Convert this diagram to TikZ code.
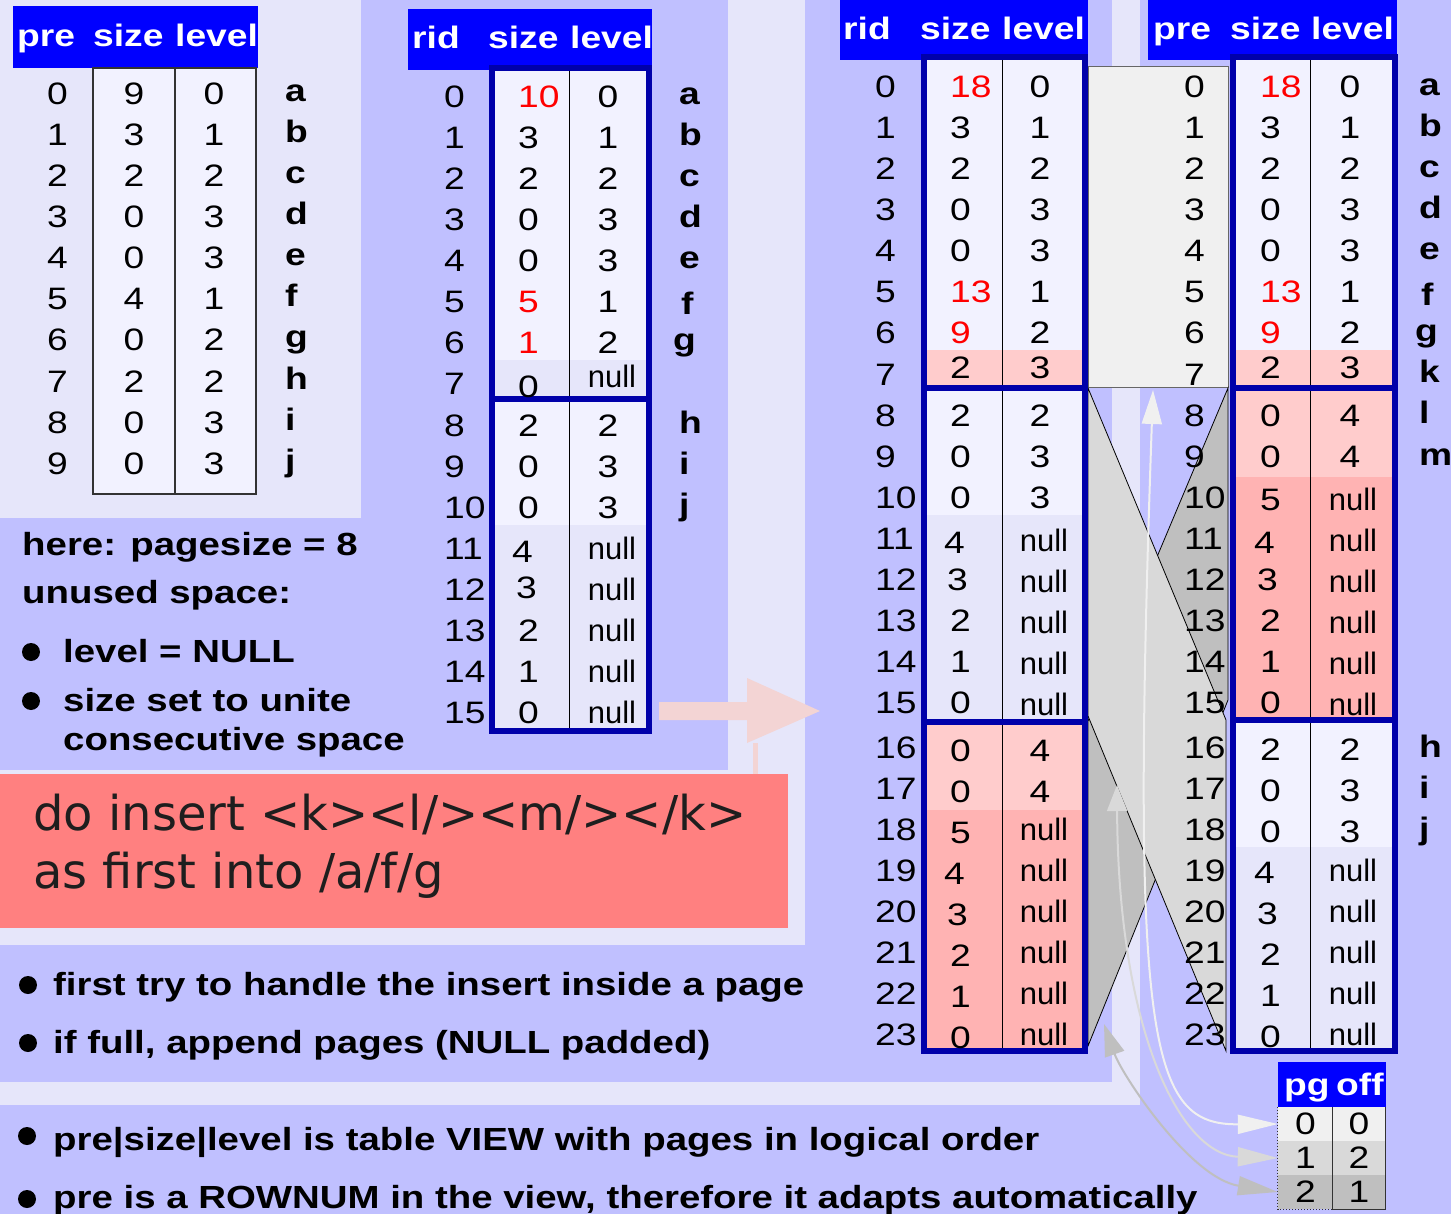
\documentclass[tikz,border=0pt]{standalone}
\usepackage{fontspec}
\usetikzlibrary{arrows.meta}
\newfontfamily\hv{Liberation Sans}[FakeStretch=1.2]
\newfontfamily\hvn{Liberation Sans}
\newfontfamily\dv{DejaVu Sans}
\definecolor{medbg}{HTML}{C0C0FF}
\definecolor{lightbg}{HTML}{E6E6FA}
\definecolor{cellbg}{HTML}{F2F2FF}
\definecolor{nullbg}{HTML}{E6E6FA}
\definecolor{pinkA}{HTML}{FFCCCC}
\definecolor{pinkB}{HTML}{FFB3B3}
\definecolor{cmdred}{HTML}{FF8080}
\definecolor{hdrblue}{HTML}{0000FF}
\definecolor{frameblue}{HTML}{0000AA}
\definecolor{greyA}{HTML}{F0F0F0}
\definecolor{greyB}{HTML}{D9D9D9}
\definecolor{greyC}{HTML}{BFBFBF}
\definecolor{arrowpink}{HTML}{F3D4D4}
\definecolor{cmdtext}{HTML}{1E1E1E}
\begin{document}
\begin{tikzpicture}[x=1pt,y=-1pt,
  num/.style={font=\hv\fontsize{31}{31}\selectfont, inner sep=0pt},
  numL/.style={num, anchor=base west},
  numC/.style={num, anchor=base},
  nullC/.style={font=\hvn\fontsize{31}{31}\selectfont, inner sep=0pt, anchor=base},
  lbl/.style={font=\hv\bfseries\fontsize{31}{31}\selectfont, inner sep=0pt, anchor=base west},
  hdr/.style={lbl, text=white},
  note/.style={font=\hv\bfseries\fontsize{32}{32}\selectfont, inner sep=0pt, anchor=base west},
  cmdtxt/.style={font=\dv\fontsize{48}{48}\selectfont, text=cmdtext, inner sep=0pt, anchor=base west},
  pageframe/.style={draw=frameblue, line width=6pt},
  coldiv/.style={draw=black, line width=1pt},
  pgarrow/.style={line width=2pt},
  pgcell/.style={num, minimum height=34pt, inner sep=0pt},
]
\useasboundingbox (0,0) rectangle (1451,1214);

% ---------- background panels ----------
\fill[medbg] (0,0) rectangle (1451,1214);
\fill[lightbg] (0,0) rectangle (361,518);
\fill[lightbg] (728,0) rectangle (805,945);
\fill[lightbg] (0,770) rectangle (805,945);
\fill[lightbg] (1112,0) rectangle (1140,1105);
\fill[lightbg] (0,1082) rectangle (1140,1105);

% ---------- table 1: pre | size | level ----------
\fill[hdrblue] (13,6) rectangle (258,68);
\node[hdr] (t1h1) at (17,47) {pre};
\node[hdr] (t1h2) at (93,47) {size};
\node[hdr] (t1h3) at (175,47) {level};
\filldraw[fill=cellbg, draw=black!80, line width=1.2pt] (93,68) rectangle (175,494);
\filldraw[fill=cellbg, draw=black!80, line width=1.2pt] (175,68) rectangle (256,494);
\foreach \s/\l/\n [count=\i from 0] in {9/0/a,3/1/b,2/2/c,0/3/d,0/3/e,4/1/f,0/2/g,2/2/h,0/3/i,0/3/j}{
  \pgfmathsetmacro\yb{105+41*\i}
  \node[numL] (t1p\i) at (47,\yb) {\i};
  \node[numC] (t1s\i) at (134,\yb) {\s};
  \node[numC] (t1l\i) at (214,\yb) {\l};
  \node[lbl] (t1n\i) at (285,{\yb-3}) {\n};
}

% ---------- table 2: rid | size | level, pages of 8 ----------
\fill[hdrblue] (408,9) rectangle (652,70);
\node[hdr] (t2h1) at (412,49) {rid};
\node[hdr] (t2h2) at (488,49) {size};
\node[hdr] (t2h3) at (570,49) {level};
\fill[cellbg] (491,68) rectangle (649,360);
\fill[nullbg] (491,360) rectangle (649,399);
\fill[cellbg] (491,399) rectangle (649,525);
\fill[nullbg] (491,525) rectangle (649,731);
\draw[coldiv] (569,68) -- (569,731);
\draw[pageframe] (491.5,68) rectangle (649,399);
\draw[pageframe] (491.5,399) rectangle (649,731);
\foreach \i in {0,...,15}
  \node[numL] (t2r\i) at (444,{108+41*\i}) {\i};
\foreach \v/\c/\dx/\dy [count=\i from 0] in {10/red/0/0,3/black/0/0,2/black/0/0,0/black/0/0,0/black/0/0,5/red/0/0,1/red/0/0,0/black/0/3,2/black/0/0,0/black/0/0,0/black/0/0,4/black/-6/3,3/black/-2/-2,2/black/0/0,1/black/0/0,0/black/0/0}
  \node[numL, text=\c] (t2s\i) at ({518+(\dx)},{108+41*\i+(\dy)}) {\v};
\foreach \r/\v in {0/0,1/1,2/2,3/3,4/3,5/1,6/2,8/2,9/3,10/3}
  \node[numC] (t2l\r) at (608,{108+41*\r}) {\v};
\node[nullC] (t2l7) at (612,388) {null};
\foreach \r in {11,...,15}
  \node[nullC] (t2l\r) at (612,{108+41*\r}) {null};
\foreach \n/\r/\dx/\dy in {a/0/0/0,b/1/0/0,c/2/0/0,d/3/0/0,e/4/0/0,f/5/2/5,g/6/-6/0,h/8/0/0,i/9/0/0,j/10/0/0}
  \node[lbl] (t2n\n) at ({679+(\dx)},{105+41*\r+(\dy)}) {\n};

% ---------- physical-to-logical page mapping ----------
\filldraw[fill=greyA, draw=black!60, line width=1pt] (1088,67) rectangle (1228,388);
\filldraw[fill=greyC, draw=black, line width=0.8pt] (1228,388) -- (1228,700) -- (1088,1046) -- (1088,721) -- cycle;
\filldraw[fill=greyB, draw=black, line width=0.8pt] (1088,388) -- (1226,720) -- (1226,1051) -- (1088,716) -- cycle;

% ---------- table 3: rid | size | level (physical) ----------
\fill[hdrblue] (840,0) rectangle (1088,60);
\node[hdr] (t3h1) at (843,40) {rid};
\node[hdr] (t3h2) at (920,40) {size};
\node[hdr] (t3h3) at (1002,40) {level};
\fill[cellbg] (923.5,57.5) rectangle (1085,350);
\fill[pinkA] (923.5,350) rectangle (1085,388.5);
\fill[cellbg] (923.5,388.5) rectangle (1085,515);
\fill[nullbg] (923.5,515) rectangle (1085,721.5);
\fill[pinkA] (923.5,721.5) rectangle (1085,810);
\fill[pinkB] (923.5,810) rectangle (1085,1051);
\draw[coldiv] (1002,57.5) -- (1002,1051);
\draw[pageframe] (923.5,57.5) rectangle (1085,388.5);
\draw[pageframe] (923.5,388.5) rectangle (1085,721.5);
\draw[pageframe] (923.5,721.5) rectangle (1085,1051);
\foreach \i in {0,...,23}{
  \pgfmathsetmacro\yb{98+41*\i+(\i>15)*4}
  \node[numL] (t3r\i) at (875,\yb) {\i};
}
\foreach \r/\v/\c/\dx/\dy in {0/18/red/0/0,1/3/black/0/0,2/2/black/0/0,3/0/black/0/0,4/0/black/0/0,5/13/red/0/0,6/9/red/0/0,7/2/black/0/-6,8/2/black/0/0,9/0/black/0/0,10/0/black/0/0,11/4/black/-6/4,12/3/black/-3/0,13/2/black/0/0,14/1/black/0/0,15/0/black/0/0,16/0/black/0/7,17/0/black/0/7,18/5/black/0/7,19/4/black/-6/7,20/3/black/-3/7,21/2/black/0/7,22/1/black/0/7,23/0/black/0/7}
  \node[numL, text=\c] (t3s\r) at ({950+(\dx)},{98+41*\r+(\dy)}) {\v};
\foreach \r/\v/\dy in {0/0/0,1/1/0,2/2/0,3/3/0,4/3/0,5/1/0,6/2/0,7/3/-6,8/2/0,9/3/0,10/3/0,16/4/7,17/4/7}
  \node[numC] (t3l\r) at (1040,{98+41*\r+(\dy)}) {\v};
\foreach \r in {11,...,15}
  \node[nullC] (t3l\r) at (1044,{98+41*\r+2}) {null};
\foreach \r in {18,...,23}
  \node[nullC] (t3l\r) at (1044,{102+41*\r}) {null};

% ---------- table 4: pre | size | level (logical view) ----------
\fill[hdrblue] (1148,0) rectangle (1397,60);
\node[hdr] (t4h1) at (1153,40) {pre};
\node[hdr] (t4h2) at (1230,40) {size};
\node[hdr] (t4h3) at (1311,40) {level};
\fill[cellbg] (1233,57.5) rectangle (1395,350);
\fill[pinkA] (1233,350) rectangle (1395,477);
\fill[pinkB] (1233,477) rectangle (1395,720);
\fill[cellbg] (1233,720) rectangle (1395,847);
\fill[nullbg] (1233,847) rectangle (1395,1051);
\draw[coldiv] (1310,57.5) -- (1310,1051);
\draw[pageframe] (1233,57.5) rectangle (1395,388.5);
\draw[pageframe] (1233,388.5) rectangle (1395,720);
\draw[pageframe] (1233,720) rectangle (1395,1051);
\foreach \i in {0,...,23}{
  \pgfmathsetmacro\yb{98+41*\i+(\i>15)*4}
  \node[numL] (t4p\i) at (1184,\yb) {\i};
}
\foreach \r/\v/\c/\dx/\dy in {0/18/red/0/0,1/3/black/0/0,2/2/black/0/0,3/0/black/0/0,4/0/black/0/0,5/13/red/0/0,6/9/red/0/0,7/2/black/0/-6,8/0/black/0/0,9/0/black/0/0,10/5/black/0/2,11/4/black/-6/4,12/3/black/-3/0,13/2/black/0/0,14/1/black/0/0,15/0/black/0/0,16/2/black/0/6,17/0/black/0/6,18/0/black/0/6,19/4/black/-6/6,20/3/black/-3/6,21/2/black/0/6,22/1/black/0/6,23/0/black/0/6}
  \node[numL, text=\c] (t4s\r) at ({1260+(\dx)},{98+41*\r+(\dy)}) {\v};
\foreach \r/\v/\dy in {0/0/0,1/1/0,2/2/0,3/3/0,4/3/0,5/1/0,6/2/0,7/3/-6,8/4/0,9/4/0,16/2/6,17/3/6,18/3/6}
  \node[numC] (t4l\r) at (1350,{98+41*\r+(\dy)}) {\v};
\foreach \r in {10,...,15}
  \node[nullC] (t4l\r) at (1353,{98+41*\r+2}) {null};
\foreach \r in {19,...,23}
  \node[nullC] (t4l\r) at (1353,{102+41*\r}) {null};
\foreach \n/\r/\dx/\dy in {a/0/0/0,b/1/0/0,c/2/0/0,d/3/0/0,e/4/0/0,f/5/2/5,g/6/-4/0,k/7/0/0,l/8/0/0,m/9/0/0,h/16/0/5,i/17/0/5,j/18/0/5}
  \node[lbl] (t4n\n) at ({1419+(\dx)},{96+41*\r+(\dy)}) {\n};

% ---------- page table: pg | off ----------
\fill[hdrblue] (1278,1062) rectangle (1386,1107);
\node[hdr] (pgh1) at (1284,1095) {pg};
\node[hdr] (pgh2) at (1336,1095) {off};
\node[pgcell, fill=greyA, minimum width=55pt] (pg0) at (1305.5,1124) {0};
\node[pgcell, fill=greyB, minimum width=55pt] (pg1) at (1305.5,1158) {1};
\node[pgcell, fill=greyC, minimum width=55pt] (pg2) at (1305.5,1192) {2};
\node[pgcell, fill=greyA, minimum width=52pt] (off0) at (1359,1124) {0};
\node[pgcell, fill=greyB, minimum width=52pt] (off1) at (1359,1158) {2};
\node[pgcell, fill=greyC, minimum width=52pt] (off2) at (1359,1192) {1};
\draw[black!80, line width=1.2pt] (off0.north west) -- (off2.south west) -- (off2.south east) -- (off0.north east);
\draw[black!80, line width=1pt, dotted] (pg0.north west) -- (pg2.south west) -- (pg2.south east);

% ---------- page table links ----------
\coordinate (page0) at (1153,390);
\coordinate (page1) at (1117,785);
\coordinate (page2) at (1104,1024);
\draw[pgarrow, greyA, {Triangle[length=34pt,width=20pt]}-{Triangle[length=40pt,width=19pt]}]
  (page0) .. controls (1130,1050) and (1150,1125) .. (pg0.west);
\draw[pgarrow, greyB, {Triangle[length=26pt,width=20pt]}-{Triangle[length=40pt,width=19pt]}]
  (page1) .. controls (1118,1030) and (1180,1155) .. (pg1.west);
\draw[pgarrow, greyC, {Triangle[length=32pt,width=20pt]}-{Triangle[length=40pt,width=19pt]}]
  (page2) .. controls (1122,1075) and (1190,1178) .. (pg2.west);

% ---------- notes on the left ----------
\node[note] (n1) at (22,555) {here: pagesize = 8};
\node[note] (n2) at (22,603) {unused space:};
\fill (31,652) circle (9);
\node[note] (n3) at (63,662) {level = NULL};
\fill (31,701) circle (9);
\node[note] (n4) at (63,711) {size set to unite};
\node[note] (n5) at (63,750) {consecutive space};

% ---------- the insert command ----------
\node[fill=cmdred, minimum width=788pt, minimum height=154pt, inner sep=0pt, anchor=north west] (cmd) at (0,774) {};
\node[cmdtxt] (cmd1) at (33,830) {do insert <k><l/><m/></k>};
\node[cmdtxt] (cmd2) at (33,888) {as first into /a/f/g};
\coordinate (arrowfoot) at (755,743);
\draw[arrowpink, line width=5pt] (cmd.north -| arrowfoot) -- (arrowfoot);
\fill[arrowpink] (659,702) -- (747,702) -- (747,678) -- (820,711) -- (747,743) -- (747,720) -- (659,720) -- cycle;

% ---------- bullets at the bottom ----------
\fill (28,985) circle (9);
\node[note] (b1) at (53,995) {first try to handle the insert inside a page};
\fill (28,1043) circle (9);
\node[note] (b2) at (53,1053) {if full, append pages (NULL padded)};
\fill (27,1136) circle (9);
\node[note] (b3) at (53,1150) {pre|size|level is table VIEW with pages in logical order};
\fill (27,1199) circle (9);
\node[note] (b4) at (53,1208) {pre is a ROWNUM in the view, therefore it adapts automatically};
\end{tikzpicture}
\end{document}
